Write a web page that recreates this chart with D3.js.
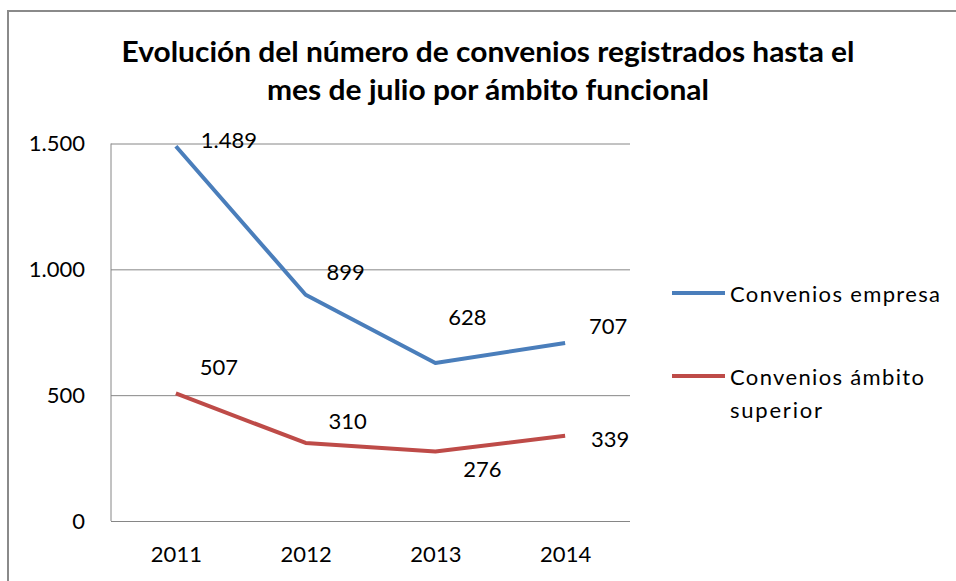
<!DOCTYPE html>
<html><head><meta charset="utf-8">
<script src="https://cdn.jsdelivr.net/npm/d3@7"></script>
<style>body{margin:0;background:#fff}text{font-family:Lato,"Open Sans",sans-serif}</style>
</head><body><svg id="c" width="956" height="581"></svg>
<script>
const categories = ["2011","2012","2013","2014"];
const empresa = [1489, 899, 628, 707];
const superior = [507, 310, 276, 339];
const yTicks = [0, 500, 1000, 1500];
const seriesNames = ["Convenios empresa", "Convenios ámbito superior"];
const titleLines = ["Evolución del número de convenios registrados hasta el", "mes de julio por ámbito funcional"];
// label offsets (dx, dy) relative to each point
const empresaLabelOffsets = [[53,2],[40,-15],[32,-38],[43,-9]];
const superiorLabelOffsets = [[43,-18],[42,-14],[47,25],[45,11]];

const svg = d3.select("#c");
const m = {left:111, right:630, top:143.5, bottom:521};
const x = d3.scalePoint().domain(categories).range([m.left, m.right]).padding(0.5);
const y = d3.scaleLinear().domain([0,1500]).range([m.bottom, m.top]);
const fmt = v => d3.format(",")(v).replace(/,/g,".");
const FF = "Lato,'Open Sans',sans-serif";

// outer frame
svg.append("path").attr("d","M8,581V11H956").attr("fill","none").attr("stroke","#8a8a8a").attr("stroke-width",2);

// title
const titleWidths = [733, 442];
svg.append("g").selectAll("text").data(titleLines).join("text")
  .attr("x",488).attr("y",(d,i)=>62+i*38).attr("text-anchor","middle")
  .attr("font-size",28).attr("font-weight","bold").attr("fill","#000")
  .attr("textLength",(d,i)=>titleWidths[i]).attr("lengthAdjust","spacingAndGlyphs")
  .text(d=>d);

// gridlines
svg.append("g").attr("transform",`translate(${m.left},0)`)
  .call(d3.axisLeft(y).tickValues(yTicks).tickSize(-(m.right-m.left)).tickFormat(""))
  .call(g=>g.select(".domain").remove())
  .call(g=>g.selectAll("line").attr("stroke","#868686").attr("stroke-width",1));
svg.append("line").attr("x1",m.left).attr("x2",m.left).attr("y1",m.top).attr("y2",m.bottom).attr("stroke","#868686");

// y labels
svg.append("g").attr("transform",`translate(${m.left},0)`)
  .call(d3.axisLeft(y).tickValues(yTicks).tickSize(0).tickPadding(26).tickFormat(fmt))
  .call(g=>g.select(".domain").remove())
  .call(g=>g.selectAll("text").attr("font-size",22).attr("fill","#000").style("font-family",FF));

// x labels
svg.append("g").attr("transform",`translate(0,${m.bottom})`)
  .call(d3.axisBottom(x).tickSize(0).tickPadding(25))
  .call(g=>g.select(".domain").remove())
  .call(g=>g.selectAll("text").attr("font-size",22).attr("fill","#000").style("font-family",FF));

const line = d3.line().x((d,i)=>x(categories[i])).y(d=>y(d));
const series = [
  {vals:empresa, color:"#4a7ebb", offs:empresaLabelOffsets},
  {vals:superior, color:"#be4b48", offs:superiorLabelOffsets}
];
series.forEach(s=>{
  svg.append("path").datum(s.vals).attr("d",line).attr("fill","none")
    .attr("stroke",s.color).attr("stroke-width",4).attr("stroke-linejoin","round");
  svg.append("g").selectAll("text").data(s.vals).join("text")
    .attr("x",(d,i)=>x(categories[i])+s.offs[i][0])
    .attr("y",(d,i)=>y(d)+s.offs[i][1])
    .attr("text-anchor","middle").attr("font-size",22).attr("fill","#000")
    .text(d=>fmt(d));
});

// legend
const lg = svg.append("g");
lg.append("line").attr("x1",672).attr("x2",725).attr("y1",293).attr("y2",293).attr("stroke",series[0].color).attr("stroke-width",4);
lg.append("text").attr("x",730).attr("y",302).attr("font-size",22).attr("textLength",210).attr("lengthAdjust","spacing").text(seriesNames[0]);
lg.append("line").attr("x1",672).attr("x2",725).attr("y1",376).attr("y2",376).attr("stroke",series[1].color).attr("stroke-width",4);
lg.append("text").attr("x",730).attr("y",385).attr("font-size",22).attr("textLength",194).attr("lengthAdjust","spacing").text("Convenios ámbito");
lg.append("text").attr("x",730).attr("y",418).attr("font-size",22).attr("textLength",92).attr("lengthAdjust","spacing").text("superior");
</script></body></html>
